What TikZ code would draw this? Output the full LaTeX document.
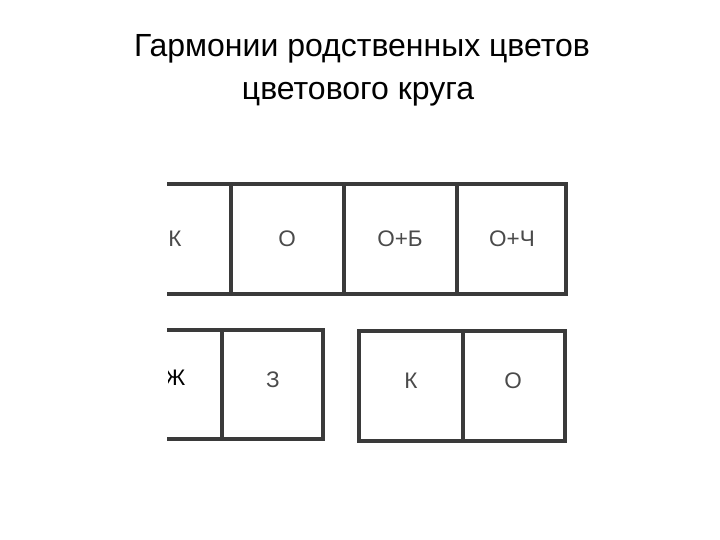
\documentclass[tikz,border=0pt]{standalone}
\usepackage{fontspec}
\setmainfont{Liberation Sans}
\definecolor{inkgrey}{HTML}{3A3A3A}
\definecolor{textgrey}{HTML}{4A4A4A}
\tikzset{
  frameline/.style={draw=inkgrey, line width=3.6pt},
  cell/.style={text=textgrey, font=\fontsize{22.5}{22.5}\selectfont, inner sep=0pt},
  title/.style={font=\fontsize{32}{38}\selectfont, inner sep=0pt, anchor=base}
}
\begin{document}
\begin{tikzpicture}[x=1pt, y=-1pt]
    \useasboundingbox[fill=white] (0,0) rectangle (720,540);
    \node[title] (head1) at (362,57) {Гармонии родственных цветов};
    \node[title] (head2) at (358,100) {цветового круга};
    % upper row
    \draw[frameline] (167,184) -- (566,184) -- (566,294) -- (167,294);
    \draw[frameline] (231,184) -- (231,294);
    \draw[frameline] (344,184) -- (344,294);
    \draw[frameline] (457,184) -- (457,294);
    \node[cell] (k1) at (175,239) {К};
    \node[cell] (o1) at (287,239) {О};
    \node[cell] (ob) at (400,239) {О+Б};
    \node[cell] (och) at (512,239) {О+Ч};
    % lower row, left group
    \draw[frameline] (167,330) -- (323,330) -- (323,439) -- (167,439);
    \draw[frameline] (222,330) -- (222,439);
    \begin{scope}
      \clip (168,340) rectangle (215,420);
      \node[cell, text=black] (zh) at (175,378) {Ж};
    \end{scope}
    \node[cell] (z) at (273,380) {З};
    % lower row, right group
    \draw[frameline] (359,331) rectangle (565,441);
    \draw[frameline] (463,331) -- (463,441);
    \node[cell] (k2) at (411,381) {К};
    \node[cell] (o2) at (513,381) {О};
  \end{tikzpicture}
\end{document}
